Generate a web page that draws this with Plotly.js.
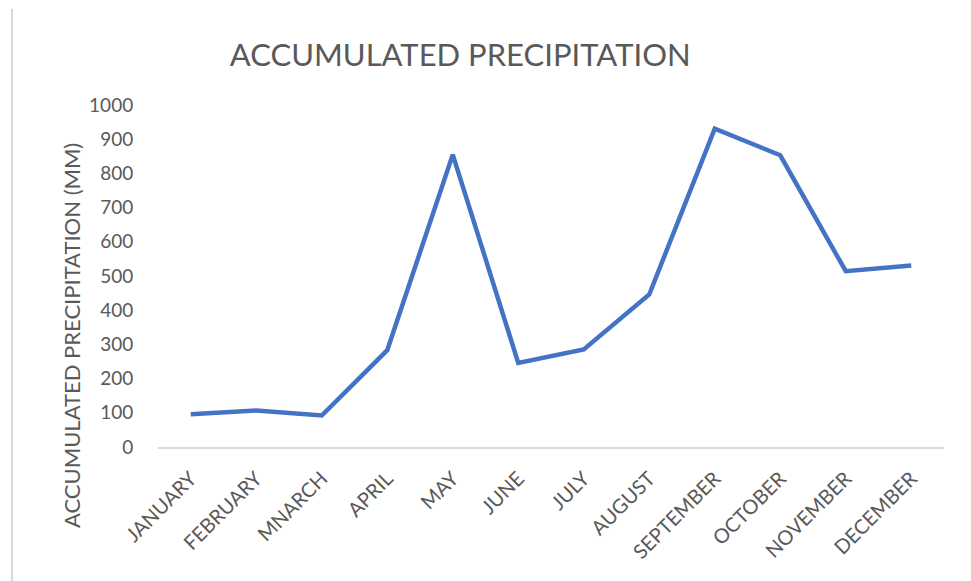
<!DOCTYPE html>
<html>
<head>
<meta charset="utf-8">
<script src="https://cdn.plot.ly/plotly-3.0.1.min.js"></script>
<style>
  html, body { margin: 0; padding: 0; background: #fff; }
  #chart { width: 971px; height: 581px; position: relative; }
  #frame { position: absolute; left: 11px; top: 9px; width: 2px; height: 572px; background: #d9d9d9; z-index: 5; }
</style>
</head>
<body>
<div id="chart"><div id="frame"></div></div>
<script>
const months = ["JANUARY", "FEBRUARY", "MNARCH", "APRIL", "MAY", "JUNE", "JULY", "AUGUST", "SEPTEMBER", "OCTOBER", "NOVEMBER", "DECEMBER"];
const precipitation = [96, 107, 92, 283, 855, 246, 285, 446, 931, 853, 514, 531];
const yTicks = [0, 100, 200, 300, 400, 500, 600, 700, 800, 900, 1000];
const chartTitle = "ACCUMULATED PRECIPITATION";
const yTitle = "ACCUMULATED PRECIPITATION (MM)";

const FONT = "Lato, 'Open Sans', sans-serif";
const GRAY = "#595959";

const trace = {
  x: months,
  y: precipitation,
  type: "scatter",
  mode: "lines",
  line: { color: "#4472C4", width: 4.5 },
  hoverinfo: "x+y"
};

const layout = {
  width: 971,
  height: 581,
  margin: { l: 158, r: 27, t: 105, b: 134 },
  paper_bgcolor: "rgba(0,0,0,0)",
  plot_bgcolor: "#ffffff",
  showlegend: false,
  font: { family: FONT, color: GRAY },
  title: {
    text: chartTitle,
    font: { family: FONT, size: 31, color: GRAY },
    xref: "container", yref: "container",
    x: 0.474, xanchor: "center",
    y: 1 - 55 / 581, yanchor: "middle"
  },
  xaxis: {
    type: "category",
    range: [-0.5, 11.5],
    showgrid: false,
    zeroline: false,
    showline: true,
    linecolor: "#d9d9d9",
    linewidth: 2,
    ticks: "outside",
    ticklen: 10,
    tickcolor: "rgba(0,0,0,0)",
    tickangle: -45,
    tickfont: { family: FONT, size: 20, color: GRAY },
    fixedrange: true
  },
  yaxis: {
    range: [0, 1000],
    tickvals: yTicks,
    ticktext: yTicks.map(String),
    showgrid: false,
    zeroline: false,
    showline: false,
    ticks: "outside",
    ticklen: 20,
    tickcolor: "rgba(0,0,0,0)",
    tickfont: { family: FONT, size: 19, color: GRAY },
    fixedrange: true
  },
  annotations: [{
    text: yTitle,
    xref: "paper", yref: "paper",
    x: (71 - 158) / 786, y: (447 - 336) / 342,
    xanchor: "center", yanchor: "middle",
    textangle: -90,
    showarrow: false,
    font: { family: FONT, size: 22, color: GRAY }
  }]
};

Plotly.newPlot("chart", [trace], layout, { displayModeBar: false, staticPlot: true });
</script>
</body>
</html>
